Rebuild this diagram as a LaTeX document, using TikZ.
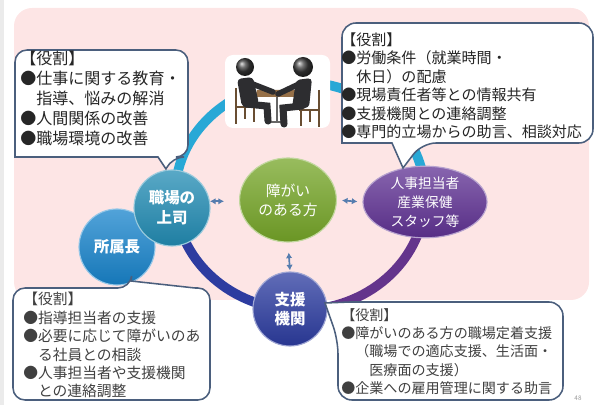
\documentclass[tikz,border=0pt]{standalone}
\usepackage{fontspec}
\setmainfont{Noto Sans CJK JP}
\usetikzlibrary{shapes.geometric, arrows.meta, positioning}

\definecolor{slidepink}{RGB}{253,229,229}
\definecolor{notebd}{RGB}{75,95,125}
\definecolor{ringcyan}{RGB}{40,168,214}
\definecolor{ringblue}{RGB}{45,60,160}
\definecolor{ringpurple}{RGB}{100,52,140}
\definecolor{bosscol}{RGB}{34,140,180}
\definecolor{chiefcol}{RGB}{24,132,204}
\definecolor{personcol}{RGB}{118,166,40}
\definecolor{hrcol}{RGB}{96,50,148}
\definecolor{agencycol}{RGB}{44,60,160}
\definecolor{linkcol}{RGB}{85,125,175}
\definecolor{figcol}{RGB}{45,45,48}
\definecolor{woodcol}{RGB}{150,112,72}

\begin{document}
\begin{tikzpicture}[x=0.025cm, y=-0.025cm,
  note/.style={draw=notebd, line width=1.1pt, fill=white},
  notetext/.style={anchor=north west, inner sep=0pt, align=left, text=black!85},
  disc/.style={circle, draw=white!55!#1, line width=0.8pt, top color=white!25!#1,
    bottom color=black!10!#1, text=white, align=center, inner sep=0pt,
    font=\bfseries\fontsize{11}{14.2}\selectfont},
  oval/.style={ellipse, draw=white!55!#1, line width=0.8pt, top color=white!25!#1,
    bottom color=black!10!#1, text=white, align=center, inner sep=0pt},
  ring/.style={line width=6.8pt},
  twoway/.style={linkcol, line width=1.2pt,
    {Latex[length=1.4mm,width=1.6mm]}-{Latex[length=1.4mm,width=1.6mm]}}]

  \useasboundingbox (0,0) rectangle (597,405);
  \fill[black!8] (0,0) rectangle (4,405);
  % Pink panel
  \fill[slidepink, rounded corners=4.5mm] (14,8) rectangle (589,300);

  % Ring behind the nodes
  \coordinate (c) at (300,196);
  \foreach \from/\to/\col in {190/355/ringcyan, 95/178/ringblue, 3/90/ringpurple}
    \draw[ring, \col] (c) ++(\from:125 and 114)
      arc[start angle=\from, end angle=\to, x radius=125, y radius=114];

  % Meeting figures
  \fill[white, rounded corners=2mm] (225,55) rectangle (330,128);
  \draw[woodcol!70!black, line width=1.2pt] (236,88) -- (236,124) (236,107) -- (256,107)
    (254,107) -- (254,122) (245,107) -- (245,119);
  \draw[woodcol!70!black, line width=1.2pt] (319,90) -- (319,127) (319,110) -- (299,110)
    (301,110) -- (301,126) (310,110) -- (310,122);
  \fill[woodcol] (257,90) -- (297,90) -- (294,97) -- (255,97) -- cycle;
  \draw[black!60, line width=1.2pt] (277,97) -- (277,121) (269,122) -- (285,122);
  % Left person
  \fill[figcol, rounded corners=1mm] (237,79) -- (253,77) -- (259,104) -- (242,107) -- cycle;
  \draw[figcol, line width=5pt, line cap=round] (246,104) -- (267,106) -- (268,121);
  \draw[figcol, line width=4pt, line cap=round] (250,83) -- (273,92);
  \shade[ball color=black!75] (245,67) circle (9);
  % Right person
  \fill[figcol, rounded corners=1mm] (296,80) -- (312,78) -- (309,108) -- (292,108) -- cycle;
  \draw[figcol, line width=5pt, line cap=round] (302,106) -- (283,108) -- (284,124);
  \draw[figcol, line width=4pt, line cap=round] (299,84) -- (278,94);
  \shade[ball color=black!75] (303,67) circle (10);

  % People and roles
  \node[disc=chiefcol, minimum size=1.9cm] (chief) at (117,247) {所属長};
  \node[disc=bosscol, minimum size=1.9cm] (boss) at (172,208) {職場の\\上司};
  \node[oval=personcol, minimum width=2.42cm, minimum height=2.1cm,
    font=\fontsize{10.5}{13.5}\selectfont] (person) at (288,200) {障がい\\のある方};
  \node[oval=hrcol, minimum width=3.1cm, minimum height=1.75cm,
    font=\fontsize{9.8}{13.5}\selectfont] (hr) at (425,202) {人事担当者\\産業保健\\スタッフ等};
  \node[disc=agencycol, minimum size=1.85cm,
    font=\bfseries\fontsize{11}{13}\selectfont] (agency) at (290,309) {支援\\機関};

  % Links to the person
  \draw[twoway, shorten >=3.75mm] (boss.10) -- (boss.10 -| person.west);
  \draw[twoway, shorten <=1.25mm, shorten >=1.25mm] (person.east) -- (hr.west);
  \draw[twoway, shorten <=2.5mm, shorten >=0.25mm] (person.south) -- (agency.north);

  % Role callouts
  \draw[note] (100,50) [rounded corners=3mm] -- (188,50) -- (188,157) -- (172,157)
    [sharp corners] -- (166,169) -- (158,157) -- (15,157) [rounded corners=3mm] -- (15,50) -- cycle;
  \node[notetext, font=\fontsize{11.4}{14.2}\selectfont] (bossnote) at (20,51)
    {【役割】\\●仕事に関する教育・\\　指導、悩みの解消\\●人間関係の改善\\●職場環境の改善};

  \draw[note] (450,23) [rounded corners=3.5mm] -- (593,23) -- (593,143) -- (422,143)
    [sharp corners] -- (403,168) -- (392,143) -- (342,143) [rounded corners=3.5mm] -- (342,23) -- cycle;
  \node[notetext, font=\fontsize{10.7}{13.2}\selectfont] (hrnote) at (341,32)
    {【役割】\\●労働条件（就業時間・\\　休日）の配慮\\●現場責任者等との情報共有\\●支援機関との連絡調整\\●専門的立場からの助言、相談対応};

  \draw[note] (60,400) [rounded corners=3mm] -- (13,400) -- (13,288) -- (130,288)
    [sharp corners] -- (131,281) -- (195,288) [rounded corners=3mm] -- (210,288) -- (210,400) -- cycle;
  \node[notetext, text=black!75, font=\fontsize{10.5}{13.1}\selectfont] (chiefnote) at (23,292)
    {【役割】\\●指導担当者の支援\\●必要に応じて障がいのあ\\　る社員との相談\\●人事担当者や支援機関\\　との連絡調整};

  \draw[note] (450,302) [rounded corners=3.5mm] -- (563,302) -- (563,400) -- (338,400) -- (338,340)
    [sharp corners] -- (325,303) -- (350,302) -- cycle;
  \node[notetext, text=black!75, font=\fontsize{10}{13}\selectfont] (agencynote) at (341,308)
    {【役割】\\●障がいのある方の職場定着支援\\　（職場での適応支援、生活面・\\　　医療面の支援）\\●企業への雇用管理に関する助言};

  \node[text=black!40, font=\fontsize{4.5}{5}\selectfont] (pageno) at (578,398) {48};
\end{tikzpicture}
\end{document}
